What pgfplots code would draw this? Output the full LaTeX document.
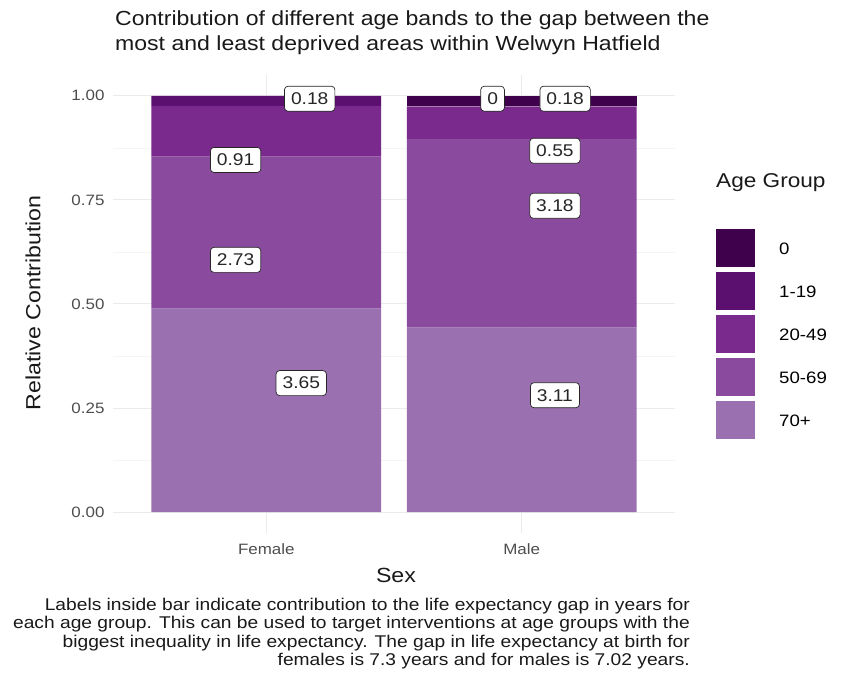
\documentclass[border=0pt]{standalone}
\usepackage{fontspec}
\setmainfont{Liberation Sans}[FakeStretch=1.13]
\usepackage{pgfplots}
\pgfplotsset{compat=1.18}
\definecolor{cZero}{HTML}{3F004C}
\definecolor{cOne}{HTML}{5B0F6E}
\definecolor{cTwenty}{HTML}{7A2A8C}
\definecolor{cFifty}{HTML}{8A4B9E}
\definecolor{cSeventy}{HTML}{9B70B0}
\definecolor{gridmaj}{HTML}{EBEBEB}
\definecolor{gridmin}{HTML}{F4F4F4}
\definecolor{ticklab}{HTML}{4D4D4D}
\tikzset{labnode/.style={fill=white, draw=black!85, rounded corners=3.5pt, inner xsep=6.5pt, inner ysep=6.5pt,
    font=\fontsize{17}{20}\selectfont, text=black!85, line width=0.7pt}}
\begin{document}
\begin{tikzpicture}[x=1pt,y=1pt]
\path[use as bounding box] (0,0) rectangle (851,683);
\begin{axis}[
  at={(113pt,150pt)}, anchor=south west,
  scale only axis, width=562pt, height=458pt,
  xmin=0.4, xmax=2.6, ymin=-0.05, ymax=1.05,
  ybar stacked, bar width=0.9,
  axis line style={draw=none},
  major tick style={draw=none}, minor tick style={draw=none},
  xtick={1,2}, xticklabels={Female,Male},
  ytick={0,0.25,0.5,0.75,1},
  yticklabels={0.00,0.25,0.50,0.75,1.00},
  minor ytick={0.125,0.375,0.625,0.875},
  grid=both,
  major grid style={gridmaj, line width=1pt},
  minor grid style={gridmin, line width=0.6pt},
  tick label style={font=\fontsize{15}{18}\selectfont, text=ticklab},
  yticklabel style={xshift=-5pt},
  xticklabel style={yshift=-7pt},
  legend style={at={(1.073,0.664)}, anchor=north west, draw=none, fill=none,
    inner sep=0pt, row sep=5pt, cells={anchor=west},
    font=\fontsize{16.5}{18}\selectfont,
    /tikz/every even column/.append style={column sep=0pt}},
  legend image code/.code={\fill[#1,draw=none] (0pt,-18pt) rectangle (39pt,20pt);},
  reverse legend,
  clip=false,
]
\addplot[fill=cSeventy, draw=none] coordinates {(1,0.4886) (2,0.4430)};
\addlegendentry{\hspace{22pt}70+}
\addplot[fill=cFifty, draw=none] coordinates {(1,0.3655) (2,0.4530)};
\addlegendentry{\hspace{22pt}50-69}
\addplot[fill=cTwenty, draw=none] coordinates {(1,0.1218) (2,0.0783)};
\addlegendentry{\hspace{22pt}20-49}
\addplot[fill=cOne, draw=none] coordinates {(1,0.0241) (2,0.0001)};
\addlegendentry{\hspace{22pt}1-19}
\addplot[fill=cZero, draw=none] coordinates {(1,0.0) (2,0.0256)};
\addlegendentry{\hspace{22pt}0}
\coordinate (f1) at (axis cs:1.17,0.993);
\coordinate (f2) at (axis cs:0.88,0.846);
\coordinate (f3) at (axis cs:0.88,0.606);
\coordinate (f4) at (axis cs:1.137,0.310);
\coordinate (m0) at (axis cs:1.886,0.993);
\coordinate (m1) at (axis cs:2.17,0.993);
\coordinate (m2) at (axis cs:2.13,0.868);
\coordinate (m3) at (axis cs:2.13,0.736);
\coordinate (m4) at (axis cs:2.13,0.281);
\end{axis}
\node[labnode] at (f1) {0.18};
\node[labnode] at (f2) {0.91};
\node[labnode] at (f3) {2.73};
\node[labnode] at (f4) {3.65};
\node[labnode] at (m0) {0};
\node[labnode] at (m1) {0.18};
\node[labnode] at (m2) {0.55};
\node[labnode] at (m3) {3.18};
\node[labnode] at (m4) {3.11};
\node[anchor=north west, align=left, inner sep=0pt, font=\fontsize{20.4}{24.5}\selectfont, text=black!90]
  at (115,683-11) {Contribution of different age bands to the gap between the\\most and least deprived areas within Welwyn Hatfield};
\node[font=\fontsize{20.5}{22}\selectfont, text=black!90] at (396,683-575) {Sex};
\node[font=\fontsize{20.5}{22}\selectfont, text=black!90, rotate=90] at (33,683-303) {Relative Contribution};
\node[anchor=west, font=\fontsize{20}{22}\selectfont, text=black!90, inner sep=0pt] at (716,683-183) {Age Group};
\node[anchor=north east, align=right, inner sep=0pt, font=\fontsize{17}{18.3}\selectfont, text=black!90]
  at (690,683-598) {Labels inside bar indicate contribution to the life expectancy gap in years for\\each age group. This can be used to target interventions at age groups with the\\biggest inequality in life expectancy. The gap in life expectancy at birth for\\females is 7.3 years and for males is 7.02 years.};
\end{tikzpicture}
\end{document}
